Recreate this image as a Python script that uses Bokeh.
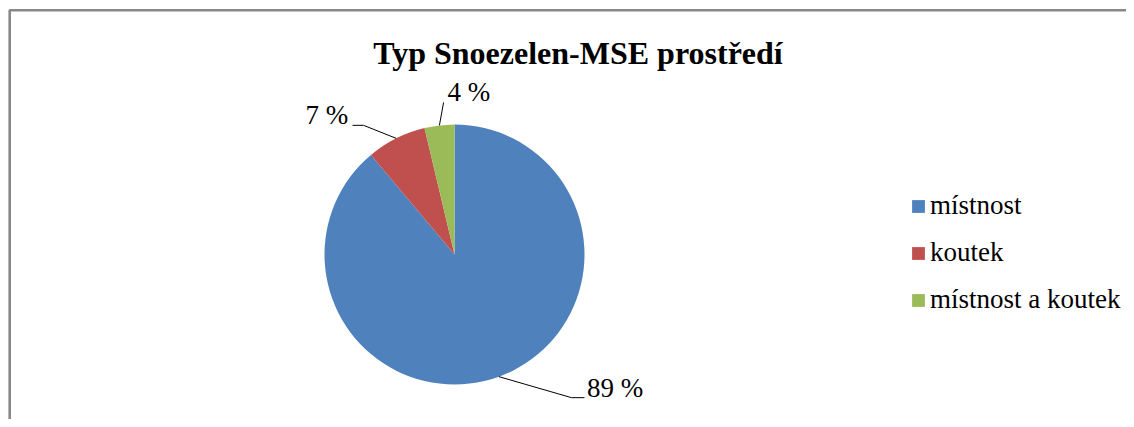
import math
from bokeh.plotting import figure
from bokeh.models import ColumnDataSource, Range1d, Legend, LegendItem
from bokeh.core.properties import value
from bokeh.embed import file_html
from bokeh.resources import INLINE

# ---- data ----
title_text = "Typ Snoezelen-MSE prostředí"
categories = ["místnost", "koutek", "místnost a koutek"]
counts = [24, 2, 1]
colors = ["#4F81BD", "#C0504D", "#9BBB59"]

# ---- layout (figure pixel coordinates, y up) ----
W, H = 1126, 419
CX, CY, R = 454, 165, 130
FONT = "'Liberation Serif', 'Times New Roman', Times, serif"

total = sum(counts)
shares = [c / total for c in counts]
starts, ends, mids = [], [], []
acc = 0.0
for s in shares:
    a0 = math.pi / 2 - 2 * math.pi * acc
    a1 = math.pi / 2 - 2 * math.pi * (acc + s)
    starts.append(a0)
    ends.append(a1)
    mids.append((a0 + a1) / 2)
    acc += s
pct_labels = [f"{round(s * 100)} %" for s in shares]

p = figure(width=W, height=H, output_backend="svg", toolbar_location=None,
           x_range=Range1d(0, W), y_range=Range1d(0, H), min_border=0,
           tools="")
p.axis.visible = False
p.grid.visible = False
p.outline_line_color = None
p.background_fill_color = "white"
p.border_fill_color = "white"

# frame border (left + top, as in cropped reference)
p.line(x=[9.2, 9.2, W], y=[0, 409.2, 409.2], line_color="#888888", line_width=2.6)

src = ColumnDataSource(dict(start=starts, end=ends, color=colors, label=categories))
wr = p.wedge(x=CX, y=CY, radius=R, start_angle="start", end_angle="end",
             direction="clock", fill_color="color", line_color=None, source=src)

# leader lines and labels
leader = [
    dict(elbow=(72.5, -21), end=(85.5, -21), text=(88, -11), align="left"),
    dict(elbow=(-32.6, 13), end=(-43.6, 13), text=(-48, 23), align="right"),
    dict(elbow=(4.2, 23), end=(4.2, 23), text=(8, 33), align="left"),
]
tx, ty, la, talign = [], [], [], []
for m, lab, ld in zip(mids, pct_labels, leader):
    x0 = CX + R * math.cos(m)
    y0 = CY + R * math.sin(m)
    ex, ey = x0 + ld["elbow"][0], y0 + ld["elbow"][1]
    fx, fy = x0 + ld["end"][0], y0 + ld["end"][1]
    p.line(x=[x0, ex, fx], y=[y0, ey, fy], line_color="#000000", line_width=1)
    tx.append(x0 + ld["text"][0])
    ty.append(y0 + ld["text"][1])
    la.append(lab)
    talign.append(ld["align"])

lab_src = ColumnDataSource(dict(x=tx, y=ty, text=la, align=talign))
p.text(x="x", y="y", text="text", text_align="align", text_baseline="alphabetic",
       text_font=value(FONT), text_font_size="27px", text_color="#000000",
       source=lab_src)

# title
p.text(x=[577.5], y=[367], text=[title_text], text_align="center",
       text_baseline="alphabetic", text_font=value(FONT),
       text_font_size="32px", text_font_style="bold", text_color="#000000")

legend = Legend(items=[LegendItem(label=categories[i], renderers=[wr], index=i)
                       for i in range(len(categories))],
                location=(910, 104), orientation="vertical",
                border_line_color=None, background_fill_alpha=0,
                padding=0, margin=0, spacing=16,
                glyph_width=16, glyph_height=16, label_height=30,
                label_standoff=4, label_text_font=FONT,
                label_text_font_size="27px", label_text_color="#000000")
p.add_layout(legend, "center")

open("out.html", "w").write(file_html(p, INLINE))
